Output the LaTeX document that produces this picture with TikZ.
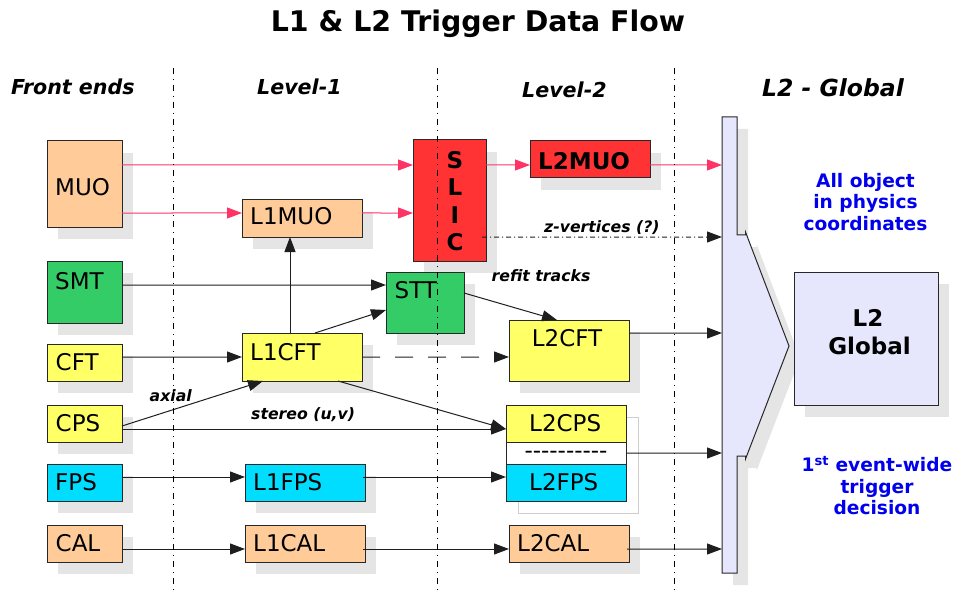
\documentclass[tikz,border=0pt]{standalone}
\usepackage{fontspec}
\setmainfont{DejaVu Sans}[ItalicFont={DejaVu Sans Oblique},BoldFont={DejaVu Sans Bold},BoldItalicFont={DejaVu Sans Bold Oblique}]
\usetikzlibrary{arrows.meta,shadows}

\definecolor{peach}{RGB}{255,204,153}
\definecolor{grn}{RGB}{51,204,102}
\definecolor{yel}{RGB}{255,255,102}
\definecolor{cyn}{RGB}{0,221,255}
\definecolor{redbox}{RGB}{255,51,51}
\definecolor{pinkln}{RGB}{255,51,102}
\definecolor{lav}{RGB}{230,230,252}
\definecolor{shgrey}{RGB}{229,229,229}
\definecolor{edge}{RGB}{40,40,40}
\definecolor{lnclr}{RGB}{30,30,30}
\definecolor{bluetxt}{RGB}{0,0,238}

% a plain hyphen that is never joined into an en or em dash
\newcommand\hyph{-\kern0pt}

\begin{document}
\begin{tikzpicture}[x=1bp,y=-1bp,
  shadowed/.style={drop shadow={shadow xshift=11bp,shadow yshift=-12bp,fill=shgrey,opacity=1}},
  flat/.style={draw=edge,line width=1bp,anchor=north west,inner sep=0,outer sep=0},
  box/.style={flat,shadowed},
  lbl/.style={anchor=base west,inner sep=0,font=\fontsize{23bp}{27bp}\selectfont},
  blbl/.style={anchor=base,inner sep=0,font=\fontsize{23bp}{27bp}\selectfont\bfseries},
  hdr/.style={anchor=base west,inner sep=0,font=\fontsize{20.6bp}{24bp}\selectfont\bfseries\itshape},
  note/.style={anchor=base west,inner sep=0,font=\fontsize{15.7bp}{18bp}\selectfont\bfseries\itshape},
  bnote/.style={anchor=base,inner sep=0,text=bluetxt,font=\fontsize{18.6bp}{21bp}\selectfont\bfseries},
  conn/.style={draw=lnclr,line width=1bp},
  arr/.style={conn,-{Triangle[length=15bp,width=11bp]}},
  pk/.style={draw=pinkln,line width=1bp,-{Triangle[length=15bp,width=11bp]}},
  divider/.style={draw=black,line width=1bp,dash pattern=on 6bp off 5bp on 1bp off 5bp},
]
\useasboundingbox (0,0) rectangle (955,590);

% title and column headers
\node[anchor=base,inner sep=0,font=\fontsize{28.4bp}{34bp}\selectfont\bfseries] (title) at (478,32) {L1 \& L2 Trigger Data Flow};
\node[hdr] (hfe) at (11,95) {Front ends};
\node[hdr] (hl1) at (257,95) {Level-1};
\node[hdr] (hl2) at (522,97.5) {Level-2};
\node[hdr,font=\fontsize{23.5bp}{27bp}\selectfont\bfseries\itshape] (hgl) at (762,96.6) {L2 - Global};

% global collector bar with its arrow head, shadow first
\path[fill=shgrey,xshift=11bp,yshift=-12bp] (722,117) -- (737,117) -- (737,235) -- (745.5,235) -- (745.5,232) -- (789,346) -- (745.5,459) -- (745.5,456) -- (737,456) -- (737,573) -- (722,573) -- cycle;
\draw[draw=edge,line width=1bp,fill=lav] (722,117) -- (737,117) -- (737,235) -- (745.5,235) -- (745.5,232) -- (789,346) -- (745.5,459) -- (745.5,456) -- (737,456) -- (737,573) -- (722,573) -- cycle;
\node[anchor=north west,inner sep=0,outer sep=0,minimum width=15bp,minimum height=456bp] (bar) at (722,117) {};

% front ends
\node[box,fill=peach,minimum width=75bp,minimum height=86bp] (muo) at (47,141) {};
\node[box,fill=grn,minimum width=75bp,minimum height=62bp] (smt) at (47,261) {};
\node[box,fill=yel,minimum width=75bp,minimum height=37bp] (cft) at (47,344) {};
\node[box,fill=yel,minimum width=75bp,minimum height=37bp] (cps) at (47,405) {};
\node[box,fill=cyn,minimum width=75bp,minimum height=37bp] (fps) at (47,464) {};
\node[box,fill=peach,minimum width=75bp,minimum height=37bp] (cal) at (47,525) {};
\node[lbl] (tmuo) at (55,196) {MUO};
\node[lbl] (tsmt) at (55,289) {SMT};
\node[lbl] (tcft) at (55.5,370) {CFT};
\node[lbl] (tcps) at (55.5,431.5) {CPS};
\node[lbl] (tfps) at (55,490) {FPS};
\node[lbl] (tcal) at (55.5,551.5) {CAL};

% level 1
\node[box,fill=peach,minimum width=120bp,minimum height=37bp] (l1muo) at (242,200) {};
\node[box,fill=yel,minimum width=120bp,minimum height=48bp] (l1cft) at (242,333) {};
\node[box,fill=cyn,minimum width=120bp,minimum height=37bp] (l1fps) at (245,464) {};
\node[box,fill=peach,minimum width=120bp,minimum height=37bp] (l1cal) at (245,525) {};
\node[lbl] (tl1muo) at (250,225) {L1MUO};
\node[lbl] (tl1cft) at (250,360) {L1CFT};
\node[lbl] (tl1fps) at (253,490) {L1FPS};
\node[lbl] (tl1cal) at (253,551.5) {L1CAL};

% SLIC and STT
\node[box,fill=redbox,minimum width=73bp,minimum height=121bp] (slic) at (413,140) {};
\node[blbl] (ts) at (455,168.4) {S};
\node[blbl] (tl) at (455,195.9) {L};
\node[blbl] (ti) at (455,223.4) {I};
\node[blbl] (tc) at (455,250.4) {C};
\node[box,fill=grn,minimum width=78bp,minimum height=61bp] (stt) at (386,272) {};
\node[lbl] (tstt) at (394.5,298) {STT};

% level 2
\node[box,fill=redbox,minimum width=120bp,minimum height=37bp] (l2muo) at (530,141) {};
\node[anchor=base west,inner sep=0,font=\fontsize{23bp}{27bp}\selectfont\bfseries] (tl2muo) at (538,169.3) {L2MUO};
\node[box,fill=yel,minimum width=120bp,minimum height=61bp] (l2cft) at (509,320) {};
\node[lbl] (tl2cft) at (531.7,346.7) {L2CFT};
\node[flat,draw=shgrey!90!black,fill=white,minimum width=120bp,minimum height=96bp] (stackshadow) at (518,417) {};
\node[flat,fill=yel,minimum width=120bp,minimum height=37bp] (l2cps) at (506,405) {};
\node[flat,fill=white,minimum width=120bp,minimum height=22bp] (l2sep) at (506,442) {};
\node[flat,fill=cyn,minimum width=120bp,minimum height=37bp] (l2fps) at (506,464) {};
\node[lbl] (tl2cps) at (529,431.7) {L2CPS};
\node[anchor=base,inner sep=0,font=\fontsize{23bp}{27bp}\selectfont] (tsep) at (566,458) {\hyph\hyph\hyph\hyph\hyph\hyph\hyph\hyph\hyph-};
\node[lbl] (tl2fps) at (529,490) {L2FPS};
\node[box,fill=peach,minimum width=120bp,minimum height=37bp] (l2cal) at (509,525) {};
\node[lbl] (tl2cal) at (517,551.5) {L2CAL};

% L2 global
\node[box,fill=lav,minimum width=144bp,minimum height=133bp] (l2g) at (794,272) {};
\node[blbl] (tl2g1) at (868,326.5) {L2};
\node[blbl] (tl2g2) at (869.5,354.5) {Global};

\node[bnote] (o1) at (865.5,187.3) {All object};
\node[bnote] (o2) at (865.5,208.8) {in physics};
\node[bnote] (o3) at (865.5,230.3) {coordinates};
\node[bnote] (e1) at (877,471.7) {1\textsuperscript{st} event-wide};
\node[bnote] (e2) at (877,493.2) {trigger};
\node[bnote] (e3) at (877,514.7) {decision};

% muon path
\draw[pk] ([yshift=-24bp]muo.north east) -- ([yshift=-25bp]slic.north west);
\draw[pk] ([yshift=-72bp]muo.north east) -- ([yshift=-13bp]l1muo.north west);
\draw[pk] ([yshift=-13bp]l1muo.north east) -- ([yshift=-73bp]slic.north west);
\draw[pk] ([yshift=-25bp]slic.north east) -- ([yshift=-24bp]l2muo.north west);
\draw[pk] ([yshift=-24bp]l2muo.north east) -- ([yshift=-48bp]bar.north west);

% z-vertices
\draw[conn,dash pattern=on 5bp off 3bp on 1bp off 3bp,-{Triangle[length=15bp,width=11bp]}] ([xshift=-4bp,yshift=-97bp]slic.north east) -- ([yshift=-120bp]bar.north west);
\node[note] (tz) at (544,232.5) {z-vertices (?)};

% tracking
\draw[arr] ([yshift=-24bp]smt.north east) -- ([yshift=-13bp]stt.north west);
\draw[arr] ([yshift=-13bp]cft.north east) -- ([yshift=-24bp]l1cft.north west);
\draw[arr] ([xshift=48bp]l1cft.north west) -- ([xshift=48bp]l1muo.south west);
\draw[arr] ([xshift=73bp]l1cft.north west) -- ([yshift=-38bp]stt.north west);
\draw[arr] ([yshift=-21bp]stt.north east) -- ([xshift=48bp]l2cft.north west);
\node[note] (trefit) at (491.5,281.5) {refit tracks};
\draw[conn,dash pattern=on 18bp off 15bp,-{Triangle[length=15bp,width=11bp]}] ([yshift=-24bp]l1cft.north east) -- ([yshift=-37bp]l2cft.north west);
\draw[arr] ([yshift=-13bp]l2cft.north east) -- ([yshift=-216bp]bar.north west);

% preshower
\draw[arr] ([yshift=-21bp]cps.north east) -- ([xshift=21bp]l1cft.south west);
\node[note] (taxial) at (149.5,401) {axial};
\draw[arr] ([yshift=-24bp]cps.north east) -- ([yshift=-24bp]l2cps.north west);
\node[note] (tstereo) at (251,419) {stereo (u,v)};
\draw[arr] ([xshift=96bp]l1cft.south west) -- ([yshift=-24bp]l2cps.north west);
\draw[arr] (l2sep.east) -- ([yshift=-336bp]bar.north west);
\draw[arr] ([yshift=-13bp]fps.north east) -- ([yshift=-13bp]l1fps.north west);
\draw[arr] ([xshift=-2bp,yshift=-13bp]l1fps.north east) -- ([yshift=-13bp]l2fps.north west);

% calorimeter
\draw[arr] ([yshift=-24bp]cal.north east) -- ([yshift=-24bp]l1cal.north west);
\draw[arr] ([xshift=-2bp,yshift=-24bp]l1cal.north east) -- ([yshift=-24bp]l2cal.north west);
\draw[arr] ([xshift=-2bp,yshift=-24bp]l2cal.north east) -- ([yshift=-432bp]bar.north west);

% column dividers
\draw[divider] (173,68) -- (173,590);
\draw[divider] (437,68) -- (437,590);
\draw[divider] (674,68) -- (674,590);
\end{tikzpicture}
\end{document}
